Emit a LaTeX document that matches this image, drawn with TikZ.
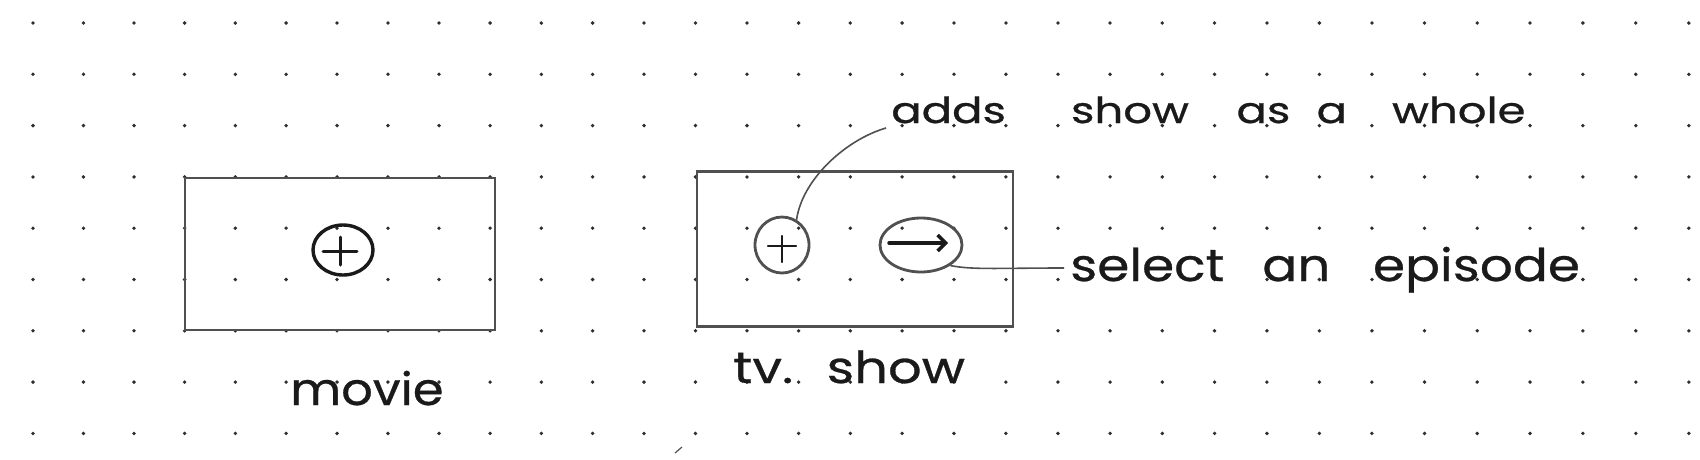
\documentclass[tikz,border=0pt]{standalone}
\usepackage{fontspec}
\setmainfont{Poppins}
\newfontfamily\handfont{Poppins}[FakeBold=0.6]
\usetikzlibrary{shapes.geometric,arrows.meta}
\definecolor{ink}{HTML}{1A1A1A}
\definecolor{pencil}{HTML}{505050}
\definecolor{dotc}{HTML}{2E2E2E}
\begin{document}
\begin{tikzpicture}[x=1pt,y=-1pt,
  boxframe/.style={draw=pencil, line width=2.2pt, inner sep=0pt, rectangle},
  btnring/.style={ellipse, draw=#1, inner sep=0pt},
  hand/.style={text=ink, inner sep=0pt, anchor=base west},
  leader/.style={draw=pencil, line width=1.6pt},
  griddot/.style={fill=dotc}]
\fill[white] (0,0) rectangle (1700,459);
\useasboundingbox (0,0) rectangle (1700,459);
% dot grid
\foreach \i in {0,...,32}{
  \foreach \j in {0,...,8}{
    \pgfmathsetmacro\dx{33+50.42*\i+0.0414*\i*\i}
    \pgfmathsetmacro\dy{23+51.3*\j}
    \fill[griddot] (\dx,\dy) circle[radius=1.9pt];
  }
}
% frames
\node[boxframe, minimum width=310pt, minimum height=152pt] (moviebox) at (340,254) {};
\node[boxframe, minimum width=316pt, minimum height=155pt] (tvbox) at (855,249) {};
% buttons
\node[btnring=ink, line width=3.4pt, minimum width=60pt, minimum height=50pt] (mplus) at (343,250) {};
\draw[ink, line width=3pt, line cap=round] ([shift={(-20,1)}]mplus.center) -- ([shift={(14,1)}]mplus.center);
\draw[ink, line width=3pt, line cap=round] ([shift={(-3,-13)}]mplus.center) -- ([shift={(-3,15)}]mplus.center);
\node[btnring=pencil, line width=2.8pt, minimum width=54pt, minimum height=56pt] (tplus) at (782,245) {};
\draw[ink, line width=2.2pt, line cap=round] ([shift={(-14,1)}]tplus.center) -- ([shift={(14,1)}]tplus.center);
\draw[ink, line width=2.2pt, line cap=round] ([shift={(0,-9)}]tplus.center) -- ([shift={(0,17)}]tplus.center);
\node[btnring=pencil, line width=2.8pt, minimum width=82pt, minimum height=54pt] (tarrow) at (921,245) {};
\draw[ink, line width=3.4pt, line cap=round, -{Straight Barb[length=8pt,width=16pt]}] ([shift={(-32,-2)}]tarrow.center) -- ([shift={(27,-2)}]tarrow.center);
% labels
\node[hand, font=\handfont\fontsize{45}{50}\selectfont, xscale=1.1] (movie) at (290,405) {movie};
\node[hand, font=\handfont\fontsize{44}{50}\selectfont, xscale=1.2] (tvshow) at (733,383) {\spaceskip=24pt tv. show};
\node[hand, font=\handfont\fontsize{36}{40}\selectfont, xscale=1.25] (adds) at (891,123) {\spaceskip=1pt adds \hspace{51pt}show \hspace{37pt}as \hspace{20pt}a \hspace{35pt}whole};
\node[hand, font=\handfont\fontsize{45}{50}\selectfont, xscale=1.15] (select) at (1070,281) {\spaceskip=1pt select \hspace{32pt}an \hspace{36pt}episode};
% leaders
\draw[leader] (tplus.60) .. controls (802,180) and (845,140) .. ([shift={(-5,5)}]adds.base west);
\draw[leader] (tarrow.-35) .. controls (972,270) and (1000,268) .. ([shift={(-6,-13)}]select.base west);
% stray pencil mark
\draw[pencil, line width=1.2pt] (675,453) -- (682,447);
\end{tikzpicture}
\end{document}
